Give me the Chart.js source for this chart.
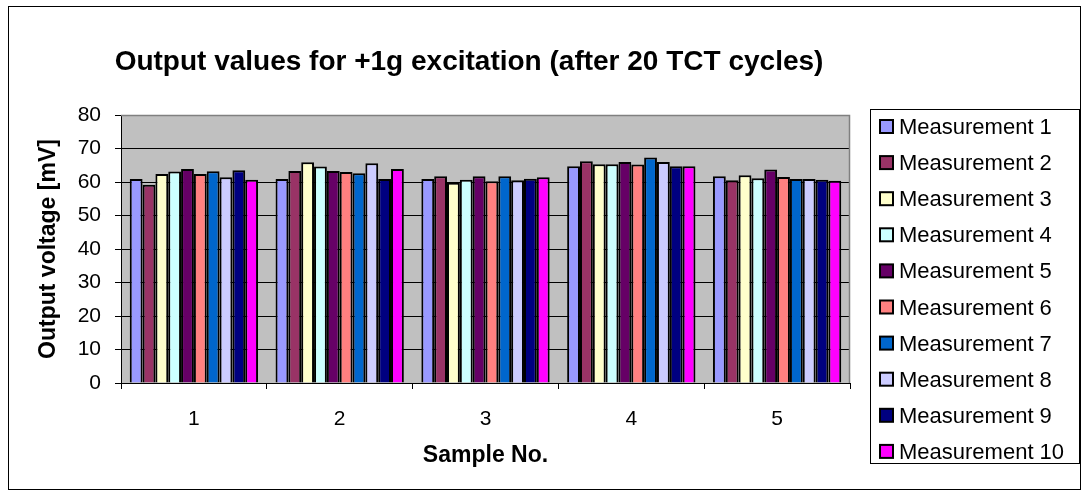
<!DOCTYPE html>
<html>
<head>
<meta charset="utf-8">
<script src="https://cdn.jsdelivr.net/npm/chart.js@4.4.0/dist/chart.umd.min.js"></script>
<style>
  html, body { margin: 0; padding: 0; background: #fff; }
  #wrap { width: 1090px; height: 499px; }
</style>
</head>
<body>
<div id="wrap"><canvas id="c" width="1090" height="499"></canvas></div>
<script>
const categories = ['1', '2', '3', '4', '5'];
const seriesNames = ['Measurement 1','Measurement 2','Measurement 3','Measurement 4','Measurement 5','Measurement 6','Measurement 7','Measurement 8','Measurement 9','Measurement 10'];
const m1  = [60.9, 60.9, 60.9, 64.7, 61.7];
const m2  = [59.2, 63.3, 61.7, 66.2, 60.5];
const m3  = [62.4, 65.9, 59.8, 65.3, 62.0];
const m4  = [63.1, 64.6, 60.7, 65.3, 61.1];
const m5  = [63.9, 63.3, 61.7, 66.0, 63.7];
const m6  = [62.4, 63.0, 60.2, 65.2, 61.5];
const m7  = [63.2, 62.6, 61.7, 67.3, 60.9];
const m8  = [61.4, 65.6, 60.5, 66.0, 60.9];
const m9  = [63.5, 60.9, 61.0, 64.7, 60.7];
const m10 = [60.7, 63.9, 61.4, 64.7, 60.4];
const seriesValues = [m1, m2, m3, m4, m5, m6, m7, m8, m9, m10];
const seriesColors = ['#9999FF','#993366','#FFFFCC','#CCFFFF','#660066','#FF8080','#0066CC','#CCCCFF','#000080','#FF00FF'];
const yTickMin = 0, yTickMax = 80, yTickStep = 10;
const chartTitle = 'Output values for +1g excitation (after 20 TCT cycles)';
const xTitle = 'Sample No.';
const yTitle = 'Output voltage [mV]';

const FONT = '"Liberation Sans", Arial, sans-serif';

const decor = {
  id: 'decor',
  beforeDraw(chart) {
    const ctx = chart.ctx, a = chart.chartArea;
    ctx.save();
    ctx.fillStyle = '#fff';
    ctx.fillRect(0, 0, chart.width, chart.height);
    ctx.strokeStyle = '#000';
    ctx.lineWidth = 1;
    ctx.strokeRect(8.5, 6.5, 1072, 483);
    ctx.fillStyle = '#C0C0C0';
    ctx.fillRect(a.left, a.top, a.right - a.left, a.bottom - a.top);
    ctx.restore();
  },
  afterDraw(chart) {
    const ctx = chart.ctx, a = chart.chartArea;
    ctx.save();
    ctx.strokeStyle = '#808080';
    ctx.lineWidth = 1.5;
    ctx.beginPath();
    ctx.moveTo(a.left, a.top + 0.5);
    ctx.lineTo(a.right - 0.5, a.top + 0.5);
    ctx.lineTo(a.right - 0.5, a.bottom);
    ctx.stroke();
    // title
    ctx.fillStyle = '#000';
    ctx.font = 'bold 28px ' + FONT;
    ctx.textAlign = 'center';
    ctx.textBaseline = 'middle';
    ctx.fillText(chartTitle, 469, 62);
    // legend
    const lx = 870, ly = 109, lw = 209, lh = 354;
    ctx.strokeStyle = '#000';
    ctx.lineWidth = 1;
    ctx.fillStyle = '#fff';
    ctx.fillRect(lx + 0.5, ly + 0.5, lw, lh);
    ctx.strokeRect(lx + 0.5, ly + 0.5, lw, lh);
    ctx.font = '22px ' + FONT;
    ctx.textAlign = 'left';
    chart.data.datasets.forEach((ds, i) => {
      const cy = 127 + i * 36.1;
      ctx.fillStyle = ds.backgroundColor;
      ctx.fillRect(880, cy - 7, 13, 13);
      ctx.lineWidth = 2;
      ctx.strokeStyle = '#000';
      ctx.strokeRect(880, cy - 7, 13, 13);
      ctx.fillStyle = '#000';
      ctx.fillText(ds.label, 899, cy + 1);
    });
    ctx.restore();
  }
};

new Chart(document.getElementById('c'), {
  type: 'bar',
  data: {
    labels: categories,
    datasets: seriesNames.map((name, i) => ({
      label: name,
      data: seriesValues[i],
      backgroundColor: seriesColors[i],
      borderColor: '#000',
      borderWidth: 2,
      categoryPercentage: 0.88,
      barPercentage: 1.0
    }))
  },
  options: {
    responsive: false,
    animation: false,
    devicePixelRatio: 1,
    layout: { padding: { left: 0, right: 240, top: 115, bottom: 0 } },
    plugins: { legend: { display: false }, title: { display: false }, tooltip: { enabled: false } },
    scales: {
      x: {
        type: 'category',
        offset: true,
        afterFit(scale) { scale.height = 116; },
        grid: { display: true, offset: true, drawOnChartArea: false, drawTicks: true, tickLength: 6, color: '#000', tickColor: '#000' },
        border: { display: true, color: '#000', width: 1 },
        ticks: { color: '#000', font: { family: FONT, size: 21 }, padding: 18, maxRotation: 0 },
        title: { display: true, text: xTitle, color: '#000', font: { family: FONT, size: 23, weight: 'bold' }, padding: { top: 0, bottom: 30 } }
      },
      y: {
        min: yTickMin, max: yTickMax,
        afterFit(scale) { scale.width = 121; },
        grid: { color: (c) => (c.tick && c.tick.value === yTickMax ? '#808080' : '#000'), tickColor: '#000', tickLength: 6, lineWidth: 1 },
        border: { display: true, color: '#000', width: 1 },
        ticks: { stepSize: yTickStep, color: '#000', font: { family: FONT, size: 21 }, padding: 14 },
        title: { display: true, text: yTitle, color: '#000', font: { family: FONT, size: 23, weight: 'bold' }, padding: { top: 35, bottom: 0 } }
      }
    }
  },
  plugins: [decor]
});
</script>
</body>
</html>
